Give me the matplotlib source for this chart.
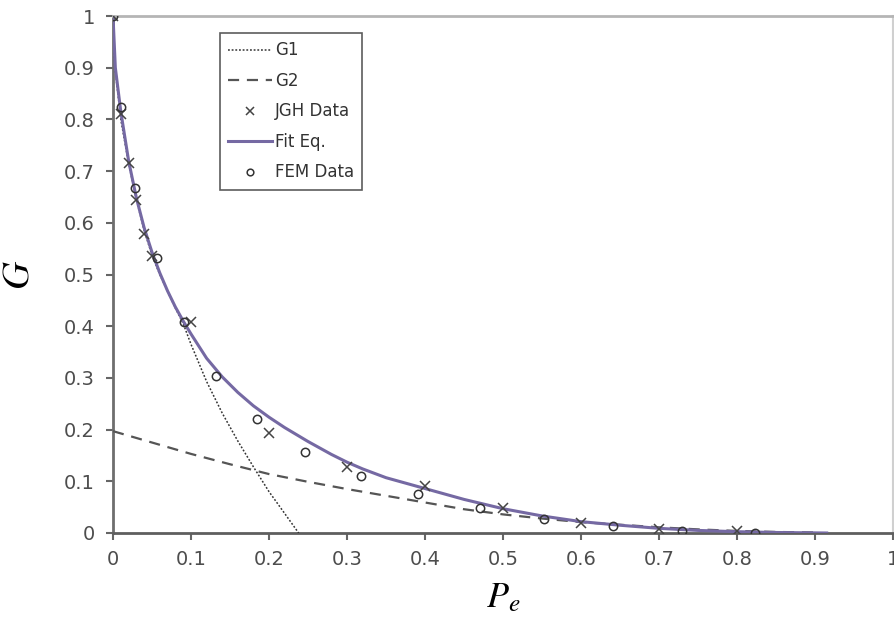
import matplotlib
matplotlib.use("Agg")
import matplotlib.pyplot as plt

# ---- data ----
g1_x = [0, 0.0025, 0.01, 0.02, 0.03, 0.04, 0.05, 0.06, 0.08, 0.09, 0.10, 0.12, 0.14, 0.16, 0.18, 0.20, 0.22, 0.238]
g1_y = [1.0, 0.90, 0.80, 0.715, 0.645, 0.585, 0.537, 0.50, 0.435, 0.405, 0.365, 0.293, 0.232, 0.178, 0.128, 0.080, 0.038, 0.0]

g2_x = [0, 0.05, 0.10, 0.15, 0.20, 0.25, 0.30, 0.35, 0.40, 0.45, 0.50, 0.55, 0.60, 0.65, 0.70, 0.75, 0.80, 0.85, 0.90]
g2_y = [0.197, 0.175, 0.153, 0.133, 0.114, 0.099, 0.085, 0.072, 0.059, 0.046, 0.036, 0.028, 0.021, 0.016, 0.011, 0.007, 0.004, 0.002, 0.001]

fit_x = [0, 0.003, 0.01, 0.02, 0.03, 0.04, 0.05, 0.06, 0.07, 0.08, 0.09, 0.10, 0.12, 0.14, 0.16, 0.18,
         0.20, 0.22, 0.25, 0.28, 0.30, 0.32, 0.35, 0.40, 0.45, 0.50, 0.55, 0.60, 0.65, 0.70, 0.75, 0.80, 0.85, 0.915]
fit_y = [1.0, 0.90, 0.815, 0.72, 0.648, 0.59, 0.543, 0.503, 0.468, 0.437, 0.41, 0.385, 0.338, 0.302, 0.272, 0.246,
         0.224, 0.204, 0.177, 0.152, 0.137, 0.124, 0.107, 0.086, 0.065, 0.047, 0.033, 0.022, 0.015, 0.009, 0.005, 0.0025, 0.001, 0.0]

jgh_x = [0, 0.01, 0.02, 0.03, 0.04, 0.05, 0.10, 0.20, 0.30, 0.40, 0.50, 0.60, 0.70, 0.80]
jgh_y = [1.0, 0.81, 0.716, 0.644, 0.578, 0.535, 0.409, 0.193, 0.128, 0.090, 0.048, 0.019, 0.008, 0.003]

fem_x = [0, 0.0099, 0.028, 0.056, 0.091, 0.132, 0.184, 0.246, 0.3175, 0.391, 0.4705, 0.5526, 0.641, 0.730, 0.823]
fem_y = [1.0, 0.8246, 0.667, 0.532, 0.409, 0.304, 0.220, 0.156, 0.110, 0.075, 0.049, 0.028, 0.014, 0.004, 0.0]

x_ticks = [0, 0.1, 0.2, 0.3, 0.4, 0.5, 0.6, 0.7, 0.8, 0.9, 1.0]
x_ticklabels = ["0", "0.1", "0.2", "0.3", "0.4", "0.5", "0.6", "0.7", "0.8", "0.9", "1"]
y_ticks = [0, 0.1, 0.2, 0.3, 0.4, 0.5, 0.6, 0.7, 0.8, 0.9, 1.0]
y_ticklabels = ["0", "0.1", "0.2", "0.3", "0.4", "0.5", "0.6", "0.7", "0.8", "0.9", "1"]

plt.rcParams['mathtext.fontset'] = 'stix'
plt.rcParams['font.family'] = ['DejaVu Sans']

fig = plt.figure(figsize=(8.94, 6.25), dpi=100)
ax = fig.add_axes([113/894, 1 - 533/625, (893 - 113)/894, (533 - 16)/625])

purple = '#7569a3'
ax.plot(g1_x, g1_y, color='#333333', lw=1.1, linestyle=(0, (1.2, 1.2)), label='G1', zorder=3)
ax.plot(g2_x, g2_y, color='#555555', lw=1.6, linestyle=(0, (5, 3.5)), label='G2', zorder=3)
ax.plot(jgh_x, jgh_y, linestyle='none', marker='x', color='#444444', markersize=7, mew=1.1, label='JGH Data', zorder=5)
ax.plot(fit_x, fit_y, color=purple, lw=2.2, label='Fit Eq.', zorder=4)
ax.plot(fem_x, fem_y, linestyle='none', marker='o', mfc='none', mec='#333333', markersize=6, mew=1.1, label='FEM Data', zorder=5)

ax.set_xlim(0, 1)
ax.set_ylim(0, 1)
ax.set_xticks(x_ticks)
ax.set_xticklabels(x_ticklabels)
ax.set_yticks(y_ticks)
ax.set_yticklabels(y_ticklabels)
ax.tick_params(axis='both', direction='out', length=5, width=1.5, color='#666666',
               labelsize=14, labelcolor='#4d4d4d')
ax.tick_params(axis='x', pad=7)
ax.tick_params(axis='y', pad=8)

ax.spines['left'].set_color('#6e6e6e')
ax.spines['left'].set_linewidth(2)
ax.spines['bottom'].set_color('#5e5e5e')
ax.spines['bottom'].set_linewidth(2)
ax.spines['top'].set_color('#b5b5b5')
ax.spines['top'].set_linewidth(2)
ax.spines['right'].set_color('#d0d0d0')
ax.spines['right'].set_linewidth(1.5)

ax.set_ylabel(r'$G$', fontsize=28)
ax.yaxis.set_label_coords(-0.098, 0.5)
ax.set_xlabel(r'$P_e$', fontsize=26, labelpad=8)

leg = ax.legend(loc='upper left', bbox_to_anchor=(0.137, 0.967), borderaxespad=0,
                fontsize=12, frameon=True, fancybox=False, handlelength=2.6,
                handletextpad=0.2, labelspacing=0.75, borderpad=0.5, markerscale=0.8)
leg.get_frame().set_edgecolor('#333333')
leg.get_frame().set_linewidth(1.2)
for t in leg.get_texts():
    t.set_color('#333333')

fig.savefig('out.png', dpi=100)
